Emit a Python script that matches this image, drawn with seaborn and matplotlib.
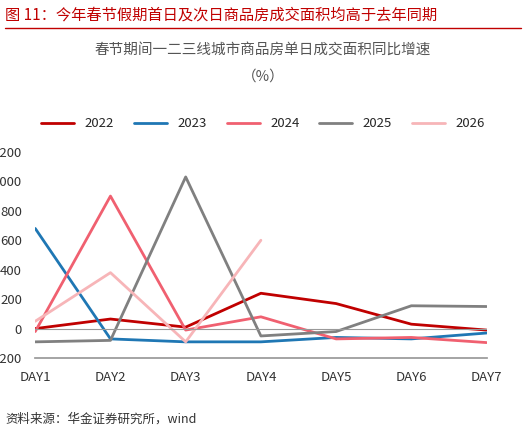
import matplotlib.pyplot as plt
import seaborn as sns
import pandas as pd
import numpy as np

sns.set_theme(style="white")
plt.rcParams['font.family'] = ['Noto Sans CJK SC', 'DejaVu Sans']

days = ['DAY1', 'DAY2', 'DAY3', 'DAY4', 'DAY5', 'DAY6', 'DAY7']
y2022 = [0, 65, 10, 240, 170, 30, -10]
y2023 = [680, -70, -90, -90, -60, -70, -30]
y2024 = [-20, 900, -10, 80, -70, -60, -95]
y2025 = [-90, -80, 1030, -50, -20, 155, 150]
y2026 = [50, 380, -90, 600, np.nan, np.nan, np.nan]

series = {'2022': y2022, '2023': y2023, '2024': y2024, '2025': y2025, '2026': y2026}
colors = {'2022': '#c00000', '2023': '#1f77b4', '2024': '#f06070',
          '2025': '#808080', '2026': '#f7b5b8'}

rows = []
for name, vals in series.items():
    for d, v in zip(days, vals):
        rows.append({'day': d, 'value': v, 'year': name})
df = pd.DataFrame(rows)
df['x'] = df['day'].map({d: i for i, d in enumerate(days)})

fig = plt.figure(figsize=(5.26, 4.34), dpi=100)
fig.text(0.01, 0.965, '图 11：今年春节假期首日及次日商品房成交面积均高于去年同期',
         color='#c00000', fontsize=11, va='center')
fig.add_artist(plt.Line2D([0.01, 0.99], [0.935, 0.935], color='#c00000', lw=1))
fig.text(0.5, 0.875, '春节期间一二三线城市商品房单日成交面积同比增速', ha='center',
         fontsize=10.5, color='#555555')
fig.text(0.5, 0.815, '（%）', ha='center', fontsize=10.5, color='#555555')
fig.text(0.01, 0.025, '资料来源：华金证券研究所，wind', fontsize=9, style='italic',
         color='#333333')

ax = fig.add_axes([0.067, 0.175, 0.858, 0.475])
sns.lineplot(data=df, x='x', y='value', hue='year', palette=colors, lw=2, ax=ax,
             legend=False)
ax.set_xticks(range(len(days)))
ax.set_xticklabels(days)
ax.set_xlim(0, 6)
ax.set_ylim(-200, 1200)
ax.set_yticks(range(-200, 1201, 200))
ax.set_xlabel('')
ax.set_ylabel('')
ax.axhline(0, color='#999999', lw=0.8)
for s in ['top', 'right', 'left']:
    ax.spines[s].set_visible(False)
ax.spines['bottom'].set_color('#999999')
ax.tick_params(labelsize=9.5, colors='#333333')

handles = [plt.Line2D([], [], color=colors[k], lw=2) for k in series]
fig.legend(handles, list(series), loc='center', bbox_to_anchor=(0.5, 0.715),
           ncol=5, frameon=False, fontsize=9.5, handlelength=2.5, columnspacing=1.5)

fig.savefig('out.png', dpi=100)
